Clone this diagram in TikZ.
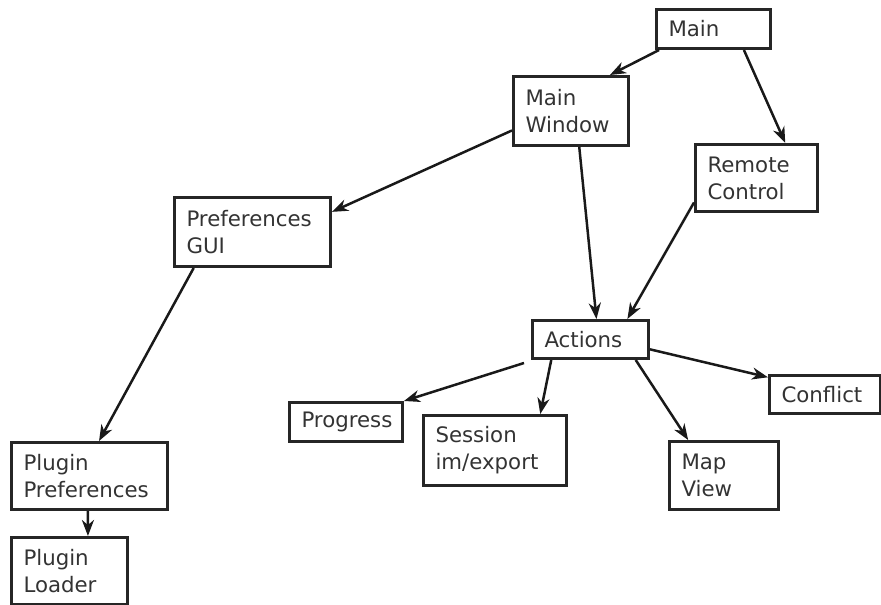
\documentclass[tikz,border=0pt]{standalone}
\usepackage{fontspec}
\setmainfont{DejaVu Sans}
\usetikzlibrary{arrows.meta,calc}
\begin{document}
\begin{tikzpicture}[x=1pt,y=-1pt,
  box/.style={draw=black!85,line width=3pt,anchor=north west,inner xsep=12pt,inner ysep=0pt,
    align=left,font=\fontsize{21.3}{27}\selectfont,text=black!80},
  conn/.style={line width=2.5pt,draw=black!90,-{Stealth[length=16pt,width=12pt,inset=5pt]}}]
\useasboundingbox (0,0) rectangle (881,605);
\newcommand{\bx}[6]{\node[box,minimum width=#4pt,minimum height=#5pt,text width=#4pt-24pt] (#1) at (#2,#3) {#6};}
\bx{main}{655}{8}{114}{39}{Main}
\bx{mainwin}{512}{75}{115}{69}{Main\\Window}
\bx{remote}{694}{143}{122}{67}{Remote\\Control}
\bx{pref}{173}{196}{156}{69}{Preferences\\GUI}
\bx{actions}{531}{319}{116}{38}{Actions}
\bx{conflict}{768}{374}{111}{38}{Conflict}
\bx{progress}{288}{401}{113}{39}{Progress}
\bx{session}{422}{414}{143}{70}{Session\\im/export}
\bx{mapview}{668}{440}{109}{68}{Map\\View}
\bx{plugpref}{10}{441}{156}{67}{Plugin\\Preferences}
\bx{plugload}{10}{536}{116}{67}{Plugin\\Loader}
\draw[conn] ($(main.south west)!0.035!(main.south east)$) -- ($(mainwin.north west)!0.83!(mainwin.north east)$);
\draw[conn] ($(main.south west)!0.76!(main.south east)$) -- ($(remote.north west)!0.73!(remote.north east)$);
\draw[conn] ($(mainwin.north west)!0.77!(mainwin.south west)$) -- ($(pref.north east)!0.22!(pref.south east)$);
\draw[conn] ($(mainwin.south west)!0.57!(mainwin.south east)$) -- ($(actions.north west)!0.55!(actions.north east)$);
\draw[conn] ($(remote.north west)!0.85!(remote.south west)$) -- ($(actions.north west)!0.81!(actions.north east)$);
\draw[conn] ($(pref.south west)!0.13!(pref.south east)$) -- ($(plugpref.north west)!0.56!(plugpref.north east)$);
\draw[conn] ($(plugpref.south west)!0.49!(plugpref.south east)$) -- ($(plugload.north west)!0.655!(plugload.north east)$);
\draw[conn] ($(actions.south west)+(-7,3)$) -- (progress.north east);
\draw[conn] ($(actions.south west)!0.17!(actions.south east)$) -- ($(session.north west)!0.81!(session.north east)$);
\draw[conn] ($(actions.south west)!0.88!(actions.south east)$) -- ($(mapview.north west)!0.18!(mapview.north east)$);
\draw[conn] ($(actions.north east)!0.74!(actions.south east)$) -- ($(conflict.north west)!0.08!(conflict.south west)$);
\end{tikzpicture}
\end{document}
